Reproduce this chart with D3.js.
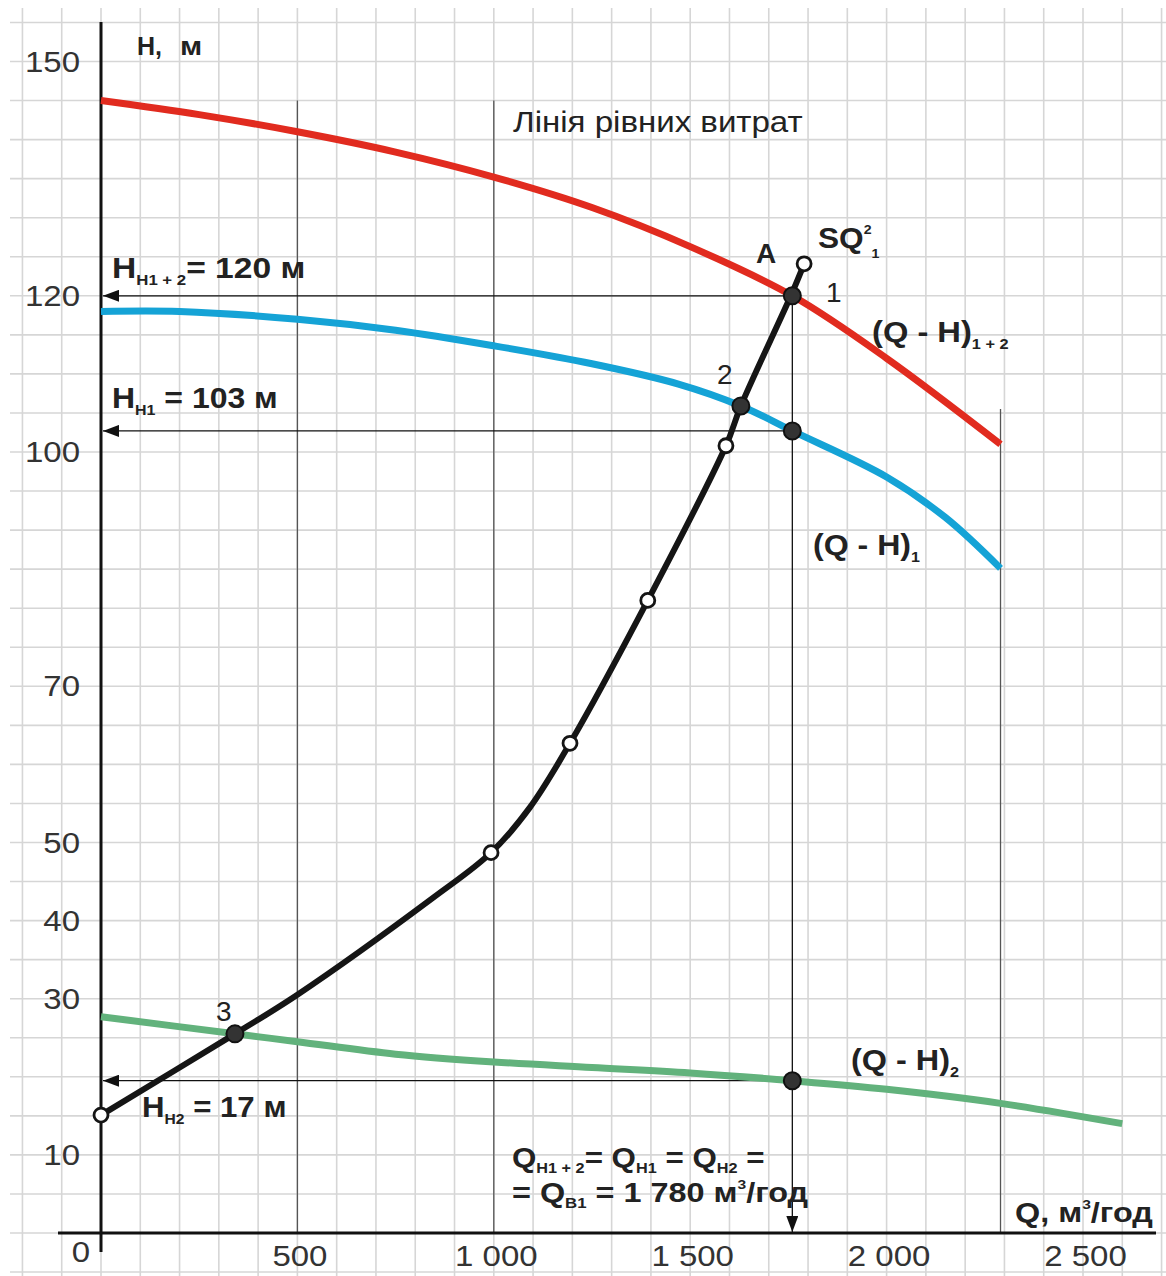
<html lang='en'>
<head>
  <meta charset='UTF-8'/>
  <title>Q-H characteristics</title>
  <script src='https://d3js.org/d3.v7.min.js'></script>
  <style>
    body { margin: 0; background: #fff; }
    text { font-family: 'Liberation Sans', Arial, sans-serif; }
  </style>
</head>
<body>
  <svg id="chart" width="1166" height="1276"></svg>
</body>
</html>

<script>
// (Q - H)1+2 curve
const qRed = [0, 250, 500, 750, 1000, 1250, 1500, 1760, 2000, 2290];
const hRed = [145, 143.2, 141, 138.4, 135.2, 131.3, 126.3, 120, 112, 101];
// (Q - H)1 curve
const qBlue = [0, 200, 500, 750, 1000, 1250, 1470, 1629, 1760, 2000, 2150, 2290];
const hBlue = [118, 118, 117, 115.6, 113.6, 111.3, 108.7, 105.9, 102.7, 96.8, 91.6, 85.1];
// (Q - H)2 curve
const qGreen = [0, 341, 500, 750, 1000, 1250, 1500, 1760, 2000, 2290, 2600];
const hGreen = [27.7, 25.5, 24.5, 22.9, 21.9, 21.2, 20.5, 19.5, 18.4, 16.6, 14.0];
// system curve SQ^2
const qSys = [0, 341, 500, 845, 993, 1092, 1194, 1392, 1591, 1629, 1757, 1790];
const hSys = [15.1, 25.5, 30.5, 42.9, 48.7, 54.5, 62.7, 81, 100.8, 105.9, 120.1, 124.1];
// open markers on system curve
const qOpen = [0, 993, 1194, 1392, 1591, 1790];
const hOpen = [15.1, 48.7, 62.7, 81, 100.8, 124.1];
// working points
const qWork = [1760, 1629, 341, 1760, 1760];
const hWork = [120, 105.9, 25.5, 102.7, 19.5];
// operating flow and heads read back to H axis
const qOp = 1760;
const hArrows = [120, 102.7, 19.5];

const yTicks = [10, 30, 40, 50, 70, 100, 120, 150];
const xTicks = [500, 1000, 1500, 2000, 2500];

const svg = d3.select('#chart');
const x = d3.scaleLinear().domain([0, 2500]).range([101, 1083]);
const y = d3.scaleLinear().domain([0, 150]).range([1233, 61.5]);

// grid
const grid = svg.append('g').attr('stroke', '#d6d6d6').attr('stroke-width', 1.6);
grid.selectAll('.hg').data(d3.range(-5, 160, 5)).enter()
  .append('line')
  .attr('x1', 10).attr('x2', 1166)
  .attr('y1', d => y(d)).attr('y2', d => y(d));
grid.selectAll('.vg').data(d3.range(-200, 2800, 100)).enter()
  .append('line')
  .attr('x1', d => x(d)).attr('x2', d => x(d))
  .attr('y1', 8).attr('y2', 1276);

// dark verticals
const dark = svg.append('g').attr('stroke', '#555').attr('stroke-width', 1.3);
[[500, 145], [1000, 145], [2290, 105.5]].forEach(([q, h]) => {
  dark.append('line')
    .attr('x1', x(q)).attr('x2', x(q))
    .attr('y1', y(h)).attr('y2', y(0));
});

// arrow marker (tip at the end of the line)
const defs = svg.append('defs');
defs.append('marker')
  .attr('id', 'arr')
  .attr('markerUnits', 'userSpaceOnUse')
  .attr('viewBox', '0 0 16 12')
  .attr('refX', 16).attr('refY', 6)
  .attr('markerWidth', 16).attr('markerHeight', 12)
  .attr('orient', 'auto')
  .append('path')
  .attr('d', 'M16,6L0,0L0,12Z')
  .attr('fill', '#111');

// axes lines
svg.append('line')
  .attr('x1', 58).attr('x2', 1156)
  .attr('y1', y(0)).attr('y2', y(0))
  .attr('stroke', '#111').attr('stroke-width', 3);
svg.append('line')
  .attr('x1', x(0)).attr('x2', x(0))
  .attr('y1', 22).attr('y2', 1252)
  .attr('stroke', '#111').attr('stroke-width', 3);

// helper arrows
hArrows.forEach(h => {
  svg.append('line')
    .attr('x1', x(qOp)).attr('x2', x(0) + 2)
    .attr('y1', y(h)).attr('y2', y(h))
    .attr('stroke', '#111').attr('stroke-width', 1.3)
    .attr('marker-end', 'url(#arr)');
});
svg.append('line')
  .attr('x1', x(qOp)).attr('x2', x(qOp))
  .attr('y1', y(120)).attr('y2', y(0) - 1)
  .attr('stroke', '#111').attr('stroke-width', 1.3)
  .attr('marker-end', 'url(#arr)');

// curves
const line = d3.line()
  .x(d => x(d[0]))
  .y(d => y(d[1]))
  .curve(d3.curveCatmullRom.alpha(0.5));

function drawCurve(qs, hs, color, w) {
  svg.append('path')
    .datum(qs.map((q, i) => [q, hs[i]]))
    .attr('d', line)
    .attr('fill', 'none')
    .attr('stroke', color)
    .attr('stroke-width', w);
}
drawCurve(qRed, hRed, '#e12b1f', 7);
drawCurve(qBlue, hBlue, '#15a3d6', 7);
drawCurve(qGreen, hGreen, '#62b27c', 7);
drawCurve(qSys, hSys, '#151515', 6);

// markers
svg.selectAll('.open').data(qOpen.map((q, i) => [q, hOpen[i]])).enter()
  .append('circle')
  .attr('cx', d => x(d[0])).attr('cy', d => y(d[1]))
  .attr('r', 7)
  .attr('fill', '#fff').attr('stroke', '#151515').attr('stroke-width', 2.8);
svg.selectAll('.work').data(qWork.map((q, i) => [q, hWork[i]])).enter()
  .append('circle')
  .attr('cx', d => x(d[0])).attr('cy', d => y(d[1]))
  .attr('r', 8.5)
  .attr('fill', '#333').attr('stroke', '#111').attr('stroke-width', 2);

// tick labels via axes
const fmt = d => d3.format(',')(d).replace(',', ' ');
const xAxis = svg.append('g')
  .attr('transform', `translate(2, ${y(0)})`)
  .call(d3.axisBottom(x).tickValues(xTicks).tickSize(0).tickPadding(12).tickFormat(fmt));
const yAxis = svg.append('g')
  .attr('transform', 'translate(80, 0)')
  .call(d3.axisLeft(y).tickValues(yTicks).tickSize(0).tickPadding(0));
[xAxis, yAxis].forEach(a => {
  a.select('.domain').remove();
  a.selectAll('text')
    .attr('font-family', "'Liberation Sans', Arial, sans-serif")
    .attr('font-size', 30)
    .attr('fill', '#333')
    .attr('transform', 'scale(1.1,1)');
});
svg.append('text')
  .attr('x', 81).attr('y', 1262)
  .attr('text-anchor', 'middle')
  .attr('font-size', 30).attr('fill', '#333')
  .attr('transform', 'translate(81,0) scale(1.1,1) translate(-81,0)')
  .text('0');

// labels
function label(xp, yp, parts, size, weight, sx) {
  const t = svg.append('text')
    .attr('transform', `translate(${xp},${yp}) scale(${sx || 1},1)`)
    .attr('font-size', size)
    .attr('font-weight', weight || 'bold')
    .attr('fill', '#222');
  let shift = 0;
  parts.forEach(p => {
    const s = t.append('tspan').text(p.t);
    const target = p.dy || 0;
    if (target !== shift) { s.attr('dy', target - shift); shift = target; }
    if (p.s) s.attr('font-size', p.s);
  });
  return t;
}

label(137, 55, [{t: 'H,'}], 25);
label(180, 55, [{t: 'м'}], 25, 'bold', 1.2);
label(513, 132, [{t: 'Лінія рівних витрат'}], 29, 'normal', 1.14);
label(756, 263, [{t: 'A'}], 28);
label(818, 248, [{t: 'SQ'}, {t: '2', s: 13, dy: -14}, {t: '1', s: 13, dy: 10}], 29, 'bold', 1.09);
label(826, 302, [{t: '1'}], 28, 'normal');
label(872, 342, [{t: '(Q - H)'}, {t: '1 + 2', s: 15, dy: 7}], 30, 'bold', 1.09);
label(717, 384, [{t: '2'}], 28, 'normal');
label(813, 555, [{t: '(Q - H)'}, {t: '1', s: 15, dy: 7}], 30, 'bold', 1.07);
label(851, 1070, [{t: '(Q - H)'}, {t: '2', s: 15, dy: 7}], 30, 'bold', 1.08);
label(216, 1021, [{t: '3'}], 28, 'normal');

label(112, 278, [{t: 'H'}, {t: 'H1 + 2', s: 15, dy: 7}, {t: '= 120 м', dy: 0}], 30, 'bold', 1.12);
label(112, 408, [{t: 'H'}, {t: 'H1', s: 15, dy: 7}, {t: ' = 103 м', dy: 0}], 30, 'bold', 1.065);
label(142, 1117, [{t: 'H'}, {t: 'H2', s: 15, dy: 7}, {t: ' = 17 м', dy: 0}], 30, 'bold', 1.04);

label(512, 1167, [{t: 'Q'}, {t: 'H1 + 2', s: 14, dy: 6}, {t: '= Q', dy: 0}, {t: 'H1', s: 14, dy: 6},
  {t: ' = Q', dy: 0}, {t: 'H2', s: 14, dy: 6}, {t: ' =', dy: 0}], 27, 'bold', 1.16);
label(512, 1202, [{t: '= Q'}, {t: 'B1', s: 14, dy: 6}, {t: ' = 1 780 м', dy: 0}, {t: '3', s: 13, dy: -13},
  {t: '/год', dy: 0}], 27, 'bold', 1.2);
label(1015, 1222, [{t: 'Q, м'}, {t: '3', s: 13, dy: -13}, {t: '/год', dy: 0}], 27, 'bold', 1.2);
</script>
